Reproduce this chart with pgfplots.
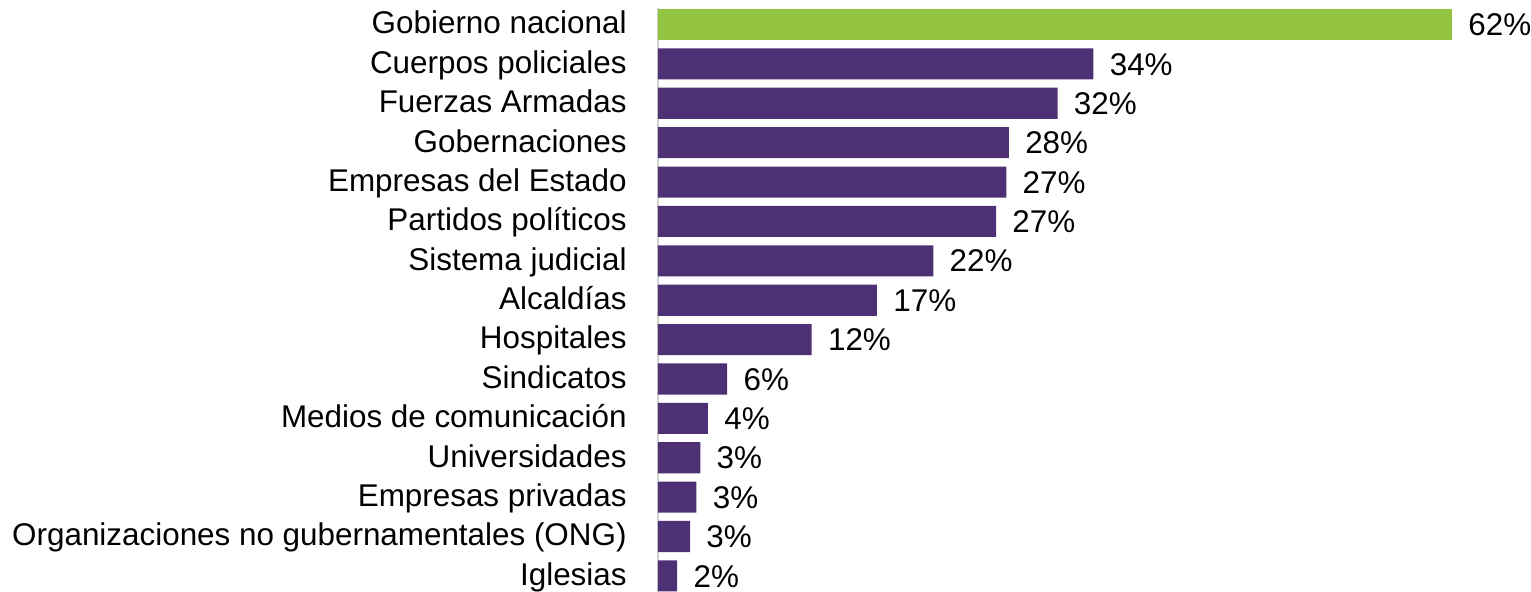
\documentclass[border=0pt]{standalone}
\usepackage{fontspec}
\setmainfont{Liberation Sans}
\usepackage{pgfplots}
\pgfplotsset{compat=1.18}
\definecolor{barpurple}{HTML}{4E3174}
\definecolor{bargreen}{HTML}{92C441}
\begin{document}
\begin{tikzpicture}[font=\fontsize{15.7bp}{18bp}\selectfont]
\begin{axis}[
  scale only axis, width=397bp, height=292bp,
  xbar, bar shift=0pt, bar width=0.79,
  xmin=0, xmax=62,
  ymin=-0.42, ymax=14.41, y dir=reverse,
  axis x line=none, axis y line*=left,
  y axis line style={draw=black!18, line width=1bp},
  ytick={0,...,14}, major tick length=0pt,
  yticklabels={Gobierno nacional, Cuerpos policiales, Fuerzas Armadas,
    Gobernaciones, Empresas del Estado, Partidos políticos, Sistema judicial,
    Alcaldías, Hospitales, Sindicatos, Medios de comunicación, Universidades,
    Empresas privadas, Organizaciones no gubernamentales (ONG), Iglesias},
  yticklabel style={inner sep=0pt, xshift=-15.5bp, yshift=-2bp,
    text height=0.74em, text depth=0.2em},
  nodes near coords, point meta=explicit symbolic,
  nodes near coords style={anchor=west, inner sep=0pt, xshift=8bp, yshift=-2.5bp,
    text=black, text height=0.74em, text depth=0.12em},
  clip=false,
]
\addplot[fill=bargreen, draw=none] coordinates {(62,0) [62\%]};
\addplot[fill=barpurple, draw=none] coordinates {
  (34.0,1) [34\%]
  (31.2,2) [32\%]
  (27.4,3) [28\%]
  (27.2,4) [27\%]
  (26.4,5) [27\%]
  (21.5,6) [22\%]
  (17.1,7) [17\%]
  (12.0,8) [12\%]
  (5.4,9) [6\%]
  (3.9,10) [4\%]
  (3.3,11) [3\%]
  (3.0,12) [3\%]
  (2.5,13) [3\%]
  (1.5,14) [2\%]
};
\end{axis}
\pgfresetboundingbox
\path[use as bounding box] (-329bp,0) rectangle (436.5bp,296bp);
\end{tikzpicture}
\end{document}
